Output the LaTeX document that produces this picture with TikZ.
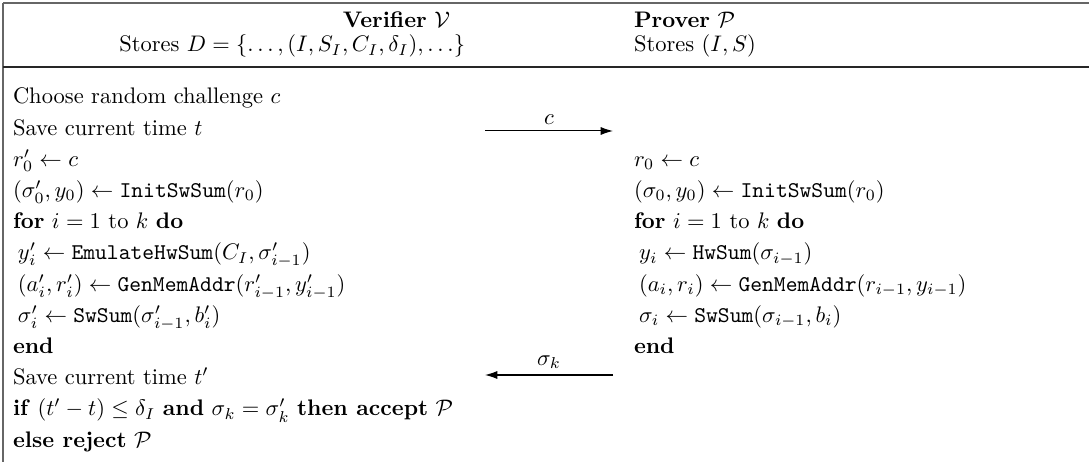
\documentclass[tikz,border=0pt]{standalone}
\usetikzlibrary{arrows.meta}
\begin{document}
\begin{tikzpicture}[x=0.4444pt,y=-0.4444pt,
  txt/.style={anchor=base west,inner sep=0pt,outer sep=0pt},
  rtxt/.style={anchor=base east,inner sep=0pt,outer sep=0pt},
  thinrule/.style={draw=black!60,line width=0.6pt},
  thickrule/.style={draw=black!85,line width=1.1pt},
  msg/.style={draw=black,line width=0.45pt,-{Latex[length=5.5pt,width=3.6pt]}},
  lbl/.style={above=2.5pt,inner sep=0pt}]
\useasboundingbox (0,0) rectangle (1089,462);
% frame
\coordinate (tl) at (3,3);
\coordinate (tr) at (1089,3);
\coordinate (bl) at (3,462);
\coordinate (hl) at (3,67);
\coordinate (hr) at (1089,67);
\draw[thinrule] (tl) -- (tr);
\draw[thinrule] (tl) -- (bl);
\draw[thickrule] (hl) -- (hr);
% header
\node[rtxt] (ver) at (450,28) {\textbf{Verifier} $\mathcal{V}$};
\node[rtxt] (vstore) at (465,52) {Stores $D=\{\ldots,(I,S_I,C_I,\delta_I),\ldots\}$};
\node[txt] (pro) at (634,28) {\textbf{Prover} $\mathcal{P}$};
\node[txt] (pstore) at (634,52) {Stores $(I,S)$};
% verifier column
\node[txt] (v1) at (13,104.0) {Choose random challenge $c$};
\node[txt] (v2) at (13,135.2) {Save current time $t$};
\node[txt] (v3) at (13,166.4) {$r'_0 \leftarrow c$};
\node[txt] (v4) at (13,197.6) {$(\sigma'_0,y_0) \leftarrow \texttt{InitSwSum}(r_0)$};
\node[txt] (v5) at (13,228.8) {\textbf{for} $i=1$ to $k$ \textbf{do}};
\node[txt] (v6) at (18,260.0) {$y'_i \leftarrow \texttt{EmulateHwSum}(C_I,\sigma'_{i-1})$};
\node[txt] (v7) at (18,291.2) {$(a'_i,r'_i) \leftarrow \texttt{GenMemAddr}(r'_{i-1},y'_{i-1})$};
\node[txt] (v8) at (18,322.4) {$\sigma'_i \leftarrow \texttt{SwSum}(\sigma'_{i-1},b'_i)$};
\node[txt] (v9) at (13,353.6) {\textbf{end}};
\node[txt] (v10) at (13,384.8) {Save current time $t'$};
\node[txt] (v11) at (13,416.0) {\textbf{if} $(t'-t)\le\delta_I$ \textbf{and} $\sigma_k=\sigma'_k$ \textbf{then accept} $\mathcal{P}$};
\node[txt] (v12) at (13,447.2) {\textbf{else reject} $\mathcal{P}$};
% prover column
\node[txt] (p3) at (634,166.4) {$r_0 \leftarrow c$};
\node[txt] (p4) at (634,197.6) {$(\sigma_0,y_0) \leftarrow \texttt{InitSwSum}(r_0)$};
\node[txt] (p5) at (634,228.8) {\textbf{for} $i=1$ to $k$ \textbf{do}};
\node[txt] (p6) at (639,260.0) {$y_i \leftarrow \texttt{HwSum}(\sigma_{i-1})$};
\node[txt] (p7) at (639,291.2) {$(a_i,r_i) \leftarrow \texttt{GenMemAddr}(r_{i-1},y_{i-1})$};
\node[txt] (p8) at (639,322.4) {$\sigma_i \leftarrow \texttt{SwSum}(\sigma_{i-1},b_i)$};
\node[txt] (p9) at (634,353.6) {\textbf{end}};
% messages
\coordinate (ca) at (485,131);
\coordinate (cb) at (613,131);
\draw[msg] (ca) -- (cb) node[midway,lbl] (cl) {$c$};
\coordinate (sa) at (613,375);
\coordinate (sb) at (485,375);
\draw[msg] (sa) -- (sb) node[midway,lbl] (sl) {$\sigma_k$};
\end{tikzpicture}
\end{document}
